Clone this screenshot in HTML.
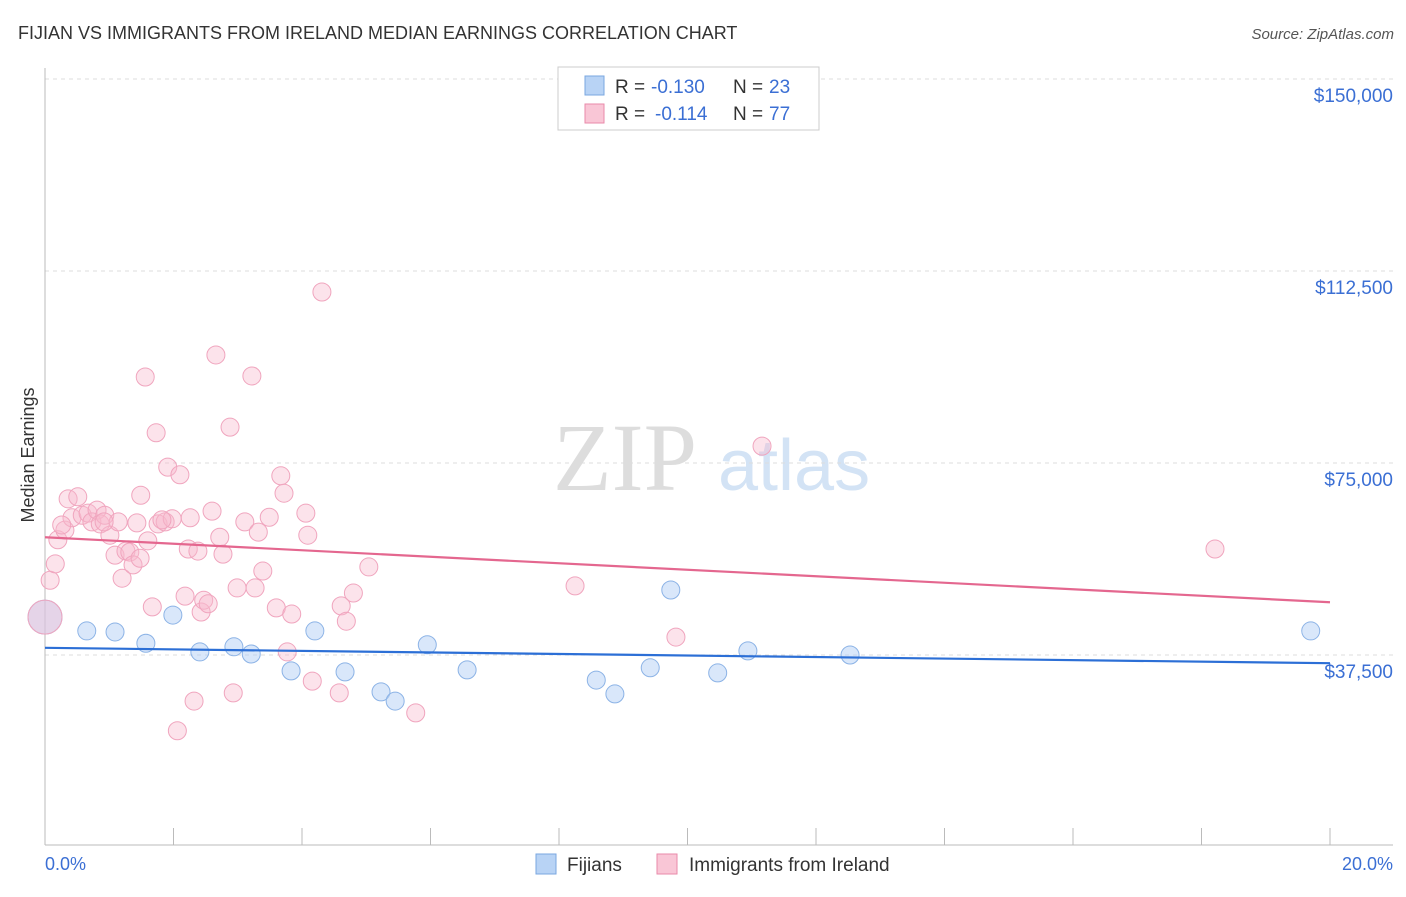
<!DOCTYPE html>
<html><head><meta charset="utf-8">
<style>
body{margin:0;background:#fff;font-family:"Liberation Sans",sans-serif;}
svg text{font-family:"Liberation Sans",sans-serif;}
</style></head>
<body>
<svg id="chart" width="1406" height="892" xmlns="http://www.w3.org/2000/svg">
<text x="18" y="39" font-size="18" fill="#333">FIJIAN VS IMMIGRANTS FROM IRELAND MEDIAN EARNINGS CORRELATION CHART</text>
<text x="1394" y="39" font-size="15" fill="#555" text-anchor="end" font-style="italic">Source: ZipAtlas.com</text>
<g>
<text x="553" y="490" font-size="96" fill="#ddd" font-family="Liberation Serif" style="font-family:'Liberation Serif',serif">ZIP</text>
<text x="718" y="490" font-size="72" fill="#d3e3f5">atlas</text>
</g>
<g id="grid"></g>
<g id="axes"></g>
<g id="marks"></g>
<text transform="translate(34,455) rotate(-90)" font-size="18" fill="#333" text-anchor="middle">Median Earnings</text>
<text x="45" y="870" font-size="18" fill="#3b6fd4">0.0%</text>
<text x="1393" y="870" font-size="18" fill="#3b6fd4" text-anchor="end">20.0%</text>
<g>
<rect x="558" y="67" width="261" height="63" fill="#fff" stroke="#ccc"/>
<rect x="585" y="76" width="19" height="19" fill="#b8d3f5" stroke="#7aa7e0"/>
<rect x="585" y="104" width="19" height="19" fill="#f9c6d6" stroke="#e98aaa"/>
<text x="615" y="93" font-size="19" fill="#333">R =</text>
<text x="651" y="93" font-size="19" fill="#3b6fd4">-0.130</text>
<text x="733" y="93" font-size="19" fill="#333">N =</text>
<text x="769" y="93" font-size="19" fill="#3b6fd4">23</text>
<text x="615" y="120" font-size="19" fill="#333">R =</text>
<text x="655" y="120" font-size="19" fill="#3b6fd4">-0.114</text>
<text x="733" y="120" font-size="19" fill="#333">N =</text>
<text x="769" y="120" font-size="19" fill="#3b6fd4">77</text>
</g>
<g>
<rect x="536" y="854" width="20" height="20" fill="#b8d3f5" stroke="#7aa7e0"/>
<text x="567" y="871" font-size="19" fill="#333">Fijians</text>
<rect x="657" y="854" width="20" height="20" fill="#f9c6d6" stroke="#e98aaa"/>
<text x="689" y="871" font-size="19" fill="#333">Immigrants from Ireland</text>
</g>
</svg>
<script>
const yTicks=[37500,75000,112500,150000];
const yTickLabels=["$37,500","$75,000","$112,500","$150,000"];
const fijianX=[0.65,1.09,1.57,1.99,2.41,2.94,3.21,3.83,4.20,4.67,5.23,5.45,5.95,6.57,8.58,8.87,9.42,9.74,10.47,10.94,12.53,19.70,0.0];
const fijianY=[42.2,42.0,39.8,45.3,38.1,39.1,37.7,34.4,42.2,34.2,30.3,28.5,39.5,34.6,32.6,29.9,35.0,50.2,34.0,38.3,37.5,42.2,44.9];
const irelandX=[0.00,0.08,0.16,0.20,0.31,0.36,0.42,0.51,0.58,0.67,0.73,0.81,0.86,0.93,1.01,1.09,1.14,1.20,1.26,1.32,1.37,1.43,1.49,1.56,1.60,1.67,1.73,1.76,1.87,1.91,1.98,2.06,2.10,2.18,2.23,2.26,2.32,2.38,2.43,2.47,2.54,2.60,2.66,2.72,2.77,2.88,2.93,2.99,3.11,3.22,3.27,3.32,3.39,3.49,3.60,3.67,3.72,3.77,3.84,4.06,4.09,4.16,4.31,4.58,4.61,4.69,4.80,5.04,5.77,8.25,9.82,11.16,18.21,0.26,0.92,1.48,1.82];
const irelandY=[44.9,52.1,55.3,60.0,61.9,68.0,64.3,68.4,64.8,65.2,63.5,65.8,63.1,64.8,60.9,57.0,63.5,52.5,57.8,57.6,55.1,63.3,68.7,91.8,59.8,46.9,80.9,63.1,63.5,74.2,64.1,22.7,72.7,49.0,58.2,64.3,28.5,57.8,45.9,48.2,47.5,65.6,96.1,60.5,57.2,82.0,30.1,50.6,63.5,92.0,50.6,61.5,53.9,64.4,46.7,72.5,69.1,38.1,45.5,65.2,60.9,32.4,108.4,30.1,47.1,44.1,49.6,54.7,26.2,51.0,41.0,78.3,58.2,62.9,63.5,56.4,63.9];
const fijianTrend=[38.9,35.9];
const irelandTrend=[60.5,47.8];
const NS="http://www.w3.org/2000/svg";
const X=v=>45+v/20*1285;
const Y=v=>847-v/37.5*192;
function mk(tag,attrs,parent){const e=document.createElementNS(NS,tag);for(const k in attrs)e.setAttribute(k,attrs[k]);document.getElementById(parent).appendChild(e);return e;}
yTicks.forEach((t,i)=>{
 const y=Y(t/1000);
 const g=mk('line',{x1:45,x2:1393,y1:y,y2:y,stroke:'#ddd','stroke-dasharray':'4,4'},'grid');
 
 
 const tx=mk('text',{x:1393,y:y+23,'font-size':19,fill:'#3b6fd4','text-anchor':'end'},'grid');
 tx.textContent=yTickLabels[i];
 
 
});
const ax=mk('line',{x1:45,x2:45,y1:68,y2:845,stroke:'#bbb'},'axes');


const bx=mk('line',{x1:45,x2:1393,y1:845,y2:845,stroke:'#bbb'},'axes');


for(let i=0;i<=10;i++){
 const t=mk('line',{x1:X(i*2),x2:X(i*2),y1:828,y2:845,stroke:'#bbb'},'axes');
 
 
}
function pts(xs,ys,fill,stroke,name,skipBig){
 xs.forEach((x,i)=>{
  const big=(x===0&&ys[i]===44.9);
  if(big&&skipBig)return;
  const c=mk('circle',{cx:X(x),cy:Y(ys[i]),r:big?17:9,fill:fill,stroke:stroke,'stroke-width':1},'marks');
  
  
 });
}
pts(fijianX,fijianY,'rgba(180,208,245,0.5)','#8cb3e6','fijian-point',false);
pts(irelandX,irelandY,'rgba(248,185,205,0.4)','#f0a5be','ireland-point',false);
const l1=mk('line',{x1:X(0),x2:X(20),y1:Y(fijianTrend[0]),y2:Y(fijianTrend[1]),stroke:'#2c6fd6','stroke-width':2.2},'marks');


const l2=mk('line',{x1:X(0),x2:X(20),y1:Y(irelandTrend[0]),y2:Y(irelandTrend[1]),stroke:'#e4678f','stroke-width':2.2},'marks');


</script>
</body></html>
